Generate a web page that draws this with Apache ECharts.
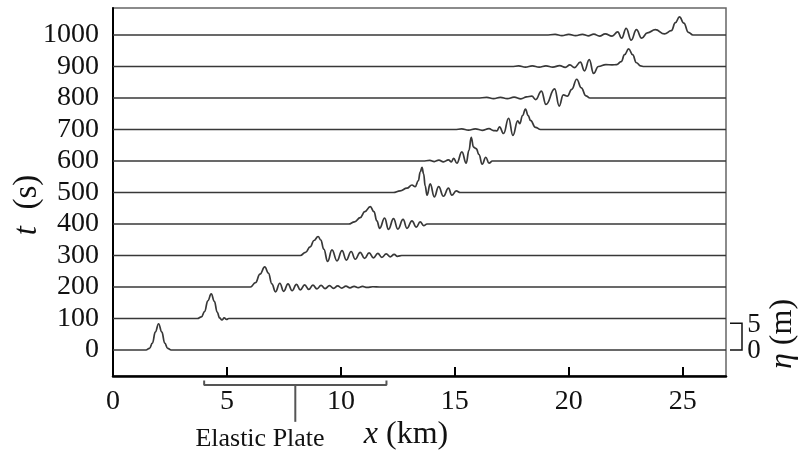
<!DOCTYPE html>
<html>
<head>
<meta charset="utf-8">
<script src="https://cdn.jsdelivr.net/npm/echarts@6/dist/echarts.min.js"></script>
<style>
  html, body { margin: 0; padding: 0; background: #fff; }
  #chart { width: 800px; height: 455px; }
</style>
</head>
<body>
<div id="chart"></div>
<script>
  // time of each profile (s)
  var times = [0, 100, 200, 300, 400, 500, 600, 700, 800, 900, 1000];

  // surface elevation profiles: [x (km), eta (m)]
  var wave0 = [[0,0],[1.45,0],[1.6,0.3],[1.73,1.3],[1.86,3.4],[2.0,4.9],[2.14,3.4],[2.27,1.3],[2.4,0.3],[2.55,0],[26.9,0]];
  var wave100 = [[0,0],[3.7,0],[3.88,0.3],[4.02,1.3],[4.16,3.3],[4.31,4.6],[4.45,3.2],[4.57,1.2],[4.68,0.1],[4.78,-0.25],[4.88,0.1],[4.98,-0.15],[5.08,0],[26.9,0]];
  var wave200 = [[0,0],[6.03,0],[6.25,0.8],[6.45,2.4],[6.66,3.75],[6.82,2.6],[6.97,0.6],[7.13,-0.9],[7.32,0.7],[7.49,-0.8],[7.68,0.6],[7.86,-0.7],[8.05,0.5],[8.22,-0.55],[8.41,0.4],[8.59,-0.45],[8.77,0.35],[8.95,-0.35],[9.13,0.3],[9.31,-0.3],[9.5,0.25],[9.68,-0.25],[9.86,0.2],[10.04,-0.2],[10.22,0.15],[10.4,-0.15],[10.58,0.12],[10.76,-0.12],[10.95,0.1],[11.15,-0.08],[11.4,0.05],[11.7,0],[26.9,0]];
  var wave300 = [[0,0],[8.22,0],[8.45,0.6],[8.65,1.6],[8.82,2.8],[9.0,3.55],[9.12,2.9],[9.25,1.2],[9.42,-1.1],[9.61,1.05],[9.83,-1.0],[10.05,0.9],[10.24,-0.85],[10.45,0.75],[10.63,-0.7],[10.85,0.6],[11.04,-0.55],[11.24,0.5],[11.43,-0.45],[11.62,0.4],[11.8,-0.35],[11.99,0.3],[12.16,-0.25],[12.34,0.2],[12.48,-0.15],[12.67,0],[26.9,0]];
  var wave400 = [[0,0],[10.34,0],[10.6,0.4],[10.85,1.2],[11.05,2.3],[11.29,3.25],[11.45,2.3],[11.58,0.6],[11.7,-0.8],[11.92,1.1],[12.09,-1.0],[12.31,1.0],[12.5,-0.95],[12.73,0.85],[12.9,-0.8],[13.12,0.6],[13.31,-0.6],[13.48,0.4],[13.63,-0.3],[13.78,0],[26.9,0]];
  var wave500 = [[0,0],[12.3,0],[12.6,0.3],[12.9,0.8],[13.12,1.4],[13.26,1.1],[13.4,2.2],[13.48,3.8],[13.56,4.7],[13.63,3.5],[13.7,1.2],[13.78,-0.5],[13.92,1.6],[14.1,-0.8],[14.29,1.1],[14.5,-0.7],[14.72,0.8],[14.87,-0.5],[15.06,0.3],[15.24,0],[26.9,0]];
  var wave600 = [[0,0],[13.6,0],[13.9,0.1],[14.1,-0.1],[14.3,0.15],[14.5,-0.15],[14.72,0.2],[14.85,-0.15],[14.95,0.5],[15.09,-0.4],[15.31,1.7],[15.5,-0.4],[15.62,2.0],[15.72,4.4],[15.82,2.6],[15.94,2.3],[16.06,1.2],[16.2,-0.6],[16.36,0.7],[16.5,-0.4],[16.65,0],[26.9,0]];
  var wave700 = [[0,0],[15.0,0],[15.3,0.1],[15.6,-0.1],[15.9,0.12],[16.2,-0.15],[16.5,0.15],[16.7,-0.2],[16.85,-0.25],[16.96,0.5],[17.14,-0.75],[17.36,2.1],[17.55,-1.1],[17.76,1.6],[17.85,1.1],[17.97,2.6],[18.1,3.8],[18.22,2.6],[18.32,1.7],[18.54,0.4],[18.76,0],[26.9,0]];
  var wave800 = [[0,0],[16.0,0],[16.4,0.1],[16.7,-0.1],[17.0,0.1],[17.3,-0.12],[17.6,0.15],[17.9,-0.15],[18.15,0.2],[18.38,0.35],[18.55,-0.3],[18.8,1.3],[19.0,-1.2],[19.38,1.7],[19.58,-1.5],[19.76,0.6],[19.94,0.35],[20.13,1.6],[20.35,3.5],[20.55,1.9],[20.75,0.4],[20.93,0],[26.9,0]];
  var wave900 = [[0,0],[17.5,0],[17.8,0.1],[18.1,-0.1],[18.4,0.1],[18.7,-0.1],[19.0,0.12],[19.3,-0.12],[19.6,0.15],[19.85,-0.15],[20.05,0.3],[20.25,-0.2],[20.51,0.8],[20.69,-0.8],[20.9,1.3],[21.09,-1.3],[21.3,0],[21.63,0.35],[21.9,0.3],[22.1,0.35],[22.3,0.9],[22.45,2.2],[22.63,3.3],[22.8,2.2],[22.97,0.7],[23.15,0.1],[23.3,0],[26.9,0]];
  var wave1000 = [[0,0],[19.0,0],[19.4,0.1],[19.7,-0.1],[20.0,0.12],[20.3,-0.12],[20.6,0.12],[20.85,-0.15],[21.1,0.15],[21.35,-0.2],[21.6,0.2],[21.9,-0.2],[22.15,0.6],[22.32,-0.6],[22.52,1.25],[22.74,-0.95],[22.97,1.0],[23.2,-0.6],[23.45,0.4],[23.8,1.0],[24.2,0.2],[24.5,0.8],[24.68,2.3],[24.86,3.4],[25.05,2.2],[25.25,0.5],[25.45,0],[26.9,0]];
  var waves = [wave0, wave100, wave200, wave300, wave400, wave500, wave600, wave700, wave800, wave900, wave1000];

  var etaScale = 17;                 // t-axis units per metre of eta
  var xTicks = [0, 5, 10, 15, 20, 25];
  var tTicks = [0, 100, 200, 300, 400, 500, 600, 700, 800, 900, 1000];
  var etaBar = [0, 5];               // scale bar (m)
  var plate = [4, 12];               // elastic plate extent (km)

  var series = [];
  waves.forEach(function (w, i) {
    var t = times[i];
    series.push({
      type: 'line',
      data: w.map(function (p) { return [p[0], t + p[1] * etaScale]; }),
      smooth: 0.45,
      smoothMonotone: 'x',
      showSymbol: false,
      silent: true,
      lineStyle: { color: '#383838', width: 1.7 },
      z: 3
    });
  });

  // elastic plate bracket under the axis
  series.push({
    type: 'line',
    data: [[plate[0], -97], [plate[0], -111], [plate[1], -111], [plate[1], -97]],
    clip: false, showSymbol: false, silent: true,
    lineStyle: { color: '#555', width: 2 }
  });
  series.push({
    type: 'line',
    data: [[(plate[0] + plate[1]) / 2, -111], [(plate[0] + plate[1]) / 2, -228]],
    clip: false, showSymbol: false, silent: true,
    lineStyle: { color: '#555', width: 2 }
  });

  var serif = 'Liberation Serif';
  var option = {
    animation: false,
    grid: { left: 113, top: 8, right: 74, bottom: 79, show: true, borderColor: '#666', borderWidth: 1.5 },
    xAxis: {
      type: 'value', min: 0, max: 26.9,
      axisLine: { onZero: false, lineStyle: { color: '#000', width: 2.5 } },
      axisTick: { inside: true, length: 9, lineStyle: { color: '#000', width: 2 }, customValues: xTicks.slice(1) },
      axisLabel: { customValues: xTicks, fontFamily: serif, fontSize: 28, color: '#111', margin: 12 },
      splitLine: { show: false }
    },
    yAxis: {
      type: 'value', min: -82.5, max: 1085.7,
      axisLine: { show: true, onZero: false, lineStyle: { color: '#000', width: 2 } },
      axisTick: { show: false },
      axisLabel: { customValues: tTicks, formatter: function (v) { return String(v); },
        fontFamily: serif, fontSize: 28, color: '#111', margin: 14 },
      splitLine: { show: false }
    },
    graphic: [
      { type: 'text', x: 27, y: 205, rotation: Math.PI / 2,
        style: { text: '{i|t}  (s)', align: 'center', verticalAlign: 'middle', font: '33px ' + serif, fill: '#111',
          rich: { i: { fontStyle: 'italic', fontFamily: serif, fontSize: 33, fill: '#111' } } } },
      { type: 'text', x: 406, y: 435,
        style: { text: '{i|x} (km)', align: 'center', verticalAlign: 'middle', font: '32px ' + serif, fill: '#111',
          rich: { i: { fontStyle: 'italic', fontFamily: serif, fontSize: 32, fill: '#111' } } } },
      { type: 'text', x: 260, y: 439,
        style: { text: 'Elastic Plate', align: 'center', verticalAlign: 'middle', font: '26px ' + serif, fill: '#111' } },
      { type: 'text', x: 754, y: 325,
        style: { text: String(etaBar[1]), align: 'center', verticalAlign: 'middle', font: '27px ' + serif, fill: '#111' } },
      { type: 'text', x: 754, y: 351,
        style: { text: String(etaBar[0]), align: 'center', verticalAlign: 'middle', font: '27px ' + serif, fill: '#111' } },
      { type: 'text', x: 783, y: 334, rotation: Math.PI / 2,
        style: { text: '{i|η} (m)', align: 'center', verticalAlign: 'middle', font: '32px ' + serif, fill: '#111',
          rich: { i: { fontStyle: 'italic', fontFamily: serif, fontSize: 32, fill: '#111' } } } }
    ],
    series: series
  };

  var myChart = echarts.init(document.getElementById('chart'));
  myChart.setOption(option);

  // eta scale bracket, placed from data coordinates
  var barX0 = myChart.convertToPixel({ gridIndex: 0 }, [26.9, etaBar[0]]);
  var barTop = myChart.convertToPixel({ gridIndex: 0 }, [26.9, etaBar[1] * etaScale]);
  myChart.setOption({
    graphic: option.graphic.concat([{
      type: 'polyline',
      shape: { points: [[barX0[0] + 4, barX0[1]], [barX0[0] + 16, barX0[1]], [barX0[0] + 16, barTop[1]], [barX0[0] + 4, barTop[1]]] },
      style: { stroke: '#111', lineWidth: 1.5, fill: null }
    }])
  });
</script>
</body>
</html>
